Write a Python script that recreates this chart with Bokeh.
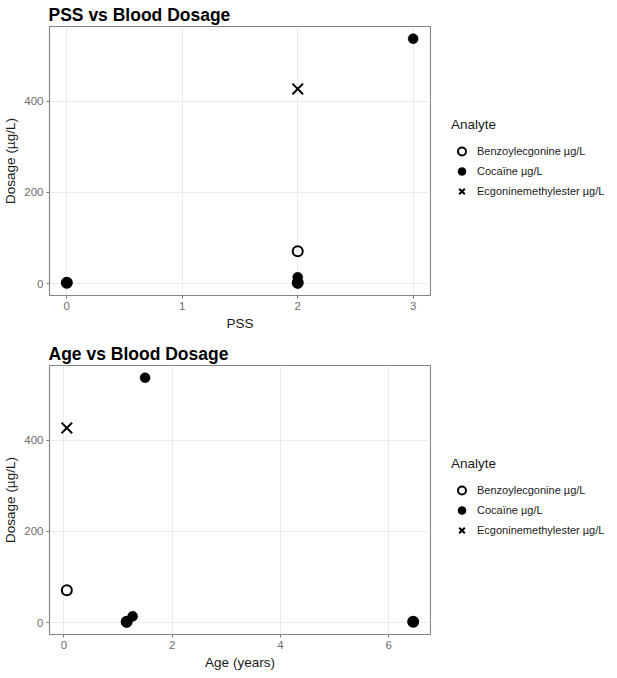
from bokeh.plotting import figure
from bokeh.models import ColumnDataSource, Range1d, FixedTicker, Legend, LegendItem, CDSView, GroupFilter
from bokeh.layouts import column, row
from bokeh.embed import file_html
from bokeh.resources import INLINE

# Blood dosage measurements per sample
analyte_levels = ["Benzoylecgonine µg/L", "Cocaïne µg/L", "Ecgoninemethylester µg/L"]
analyte = ["Benzoylecgonine µg/L", "Ecgoninemethylester µg/L",
           "Benzoylecgonine µg/L", "Cocaïne µg/L", "Cocaïne µg/L",
           "Cocaïne µg/L", "Benzoylecgonine µg/L", "Cocaïne µg/L"]
pss = [2, 2, 2, 2, 2, 3, 0, 0]
age_years = [0.055, 0.055, 1.16, 1.16, 1.27, 1.5, 6.45, 6.45]
dosage = [71, 427, 2, 1, 14, 537, 2, 2]

pss_ticks = [0, 1, 2, 3]
age_ticks = [0, 2, 4, 6]
dosage_ticks = [0, 200, 400]

FONT = "Liberation Sans"

# marker styling per analyte (open circle, filled circle, cross)
marker_style = {
    "Benzoylecgonine µg/L": dict(marker="circle", size=10, fill_color=None,
                                 line_color="black", line_width=2),
    "Cocaïne µg/L": dict(marker="circle", size=10, fill_color="black",
                         line_color="black", line_width=0.5),
    "Ecgoninemethylester µg/L": dict(marker="x", size=15, line_color="black",
                                     line_width=2),
}


def padded(vals, frac=0.05):
    lo, hi = min(vals), max(vals)
    pad = (hi - lo) * frac
    return Range1d(lo - pad, hi + pad)


source = ColumnDataSource(dict(analyte=analyte, pss=pss, age=age_years, dosage=dosage))


def analyte_view(name):
    return CDSView(filter=GroupFilter(column_name="analyte", group=name))


def make_panel(xfield, xvals, xticks, xlabel, title):
    p = figure(width=431, height=339, output_backend="svg", toolbar_location=None,
               x_range=padded(xvals), y_range=padded(dosage),
               min_border_left=43, min_border_right=1,
               min_border_top=25, min_border_bottom=44,
               background_fill_color="white", border_fill_color="white")
    p.title.text = title
    p.title.text_font = FONT
    p.title.text_font_size = "17.5px"
    p.title.text_font_style = "bold"
    p.title.text_color = "black"
    p.title.standoff = 4
    p.title.offset = -1

    p.outline_line_color = "#858585"
    p.outline_line_width = 1.2

    for ax in (p.xaxis[0], p.yaxis[0]):
        ax.axis_line_color = None
        ax.major_tick_line_color = "#7a7a7a"
        ax.major_tick_in = 0
        ax.major_tick_out = 3
        ax.minor_tick_line_color = None
        ax.major_label_text_font = FONT
        ax.major_label_text_font_size = "11.5px"
        ax.major_label_text_color = "#6e6e6e"
        ax.major_label_standoff = 3
        ax.axis_label_text_font = FONT
        ax.axis_label_text_font_size = "13.5px"
        ax.axis_label_text_font_style = "normal"
        ax.axis_label_text_color = "#1a1a1a"
        ax.axis_label_standoff = 3

    p.xaxis.ticker = FixedTicker(ticks=xticks)
    p.yaxis.ticker = FixedTicker(ticks=dosage_ticks)
    p.xaxis.axis_label = xlabel
    p.yaxis.axis_label = "Dosage (µg/L)"

    p.grid.grid_line_color = "#EBEBEB"
    p.grid.grid_line_width = 1

    for name in analyte_levels:
        p.scatter(x=xfield, y="dosage", source=source, view=analyte_view(name),
                  **marker_style[name])
    return p


def make_legend_panel():
    # key panel beside each chart; its ranges keep the data itself out of view
    lg = figure(width=186, height=339, output_backend="svg", toolbar_location=None,
                x_range=Range1d(-2000, -1999), y_range=Range1d(-2000, -1999),
                x_axis_location=None, y_axis_location=None,
                min_border=0, outline_line_color=None,
                background_fill_color="white", border_fill_color="white")
    lg.grid.visible = False
    items = []
    for name in analyte_levels:
        r = lg.scatter(x="dosage", y="dosage", source=source, view=analyte_view(name),
                       **marker_style[name])
        items.append(LegendItem(label=name, renderers=[r]))
    legend = Legend(items=items, title="Analyte",
                    location=(20, 94), margin=0, padding=0,
                    border_line_color=None, background_fill_alpha=0,
                    title_text_font=FONT, title_text_font_size="13.5px",
                    title_text_font_style="normal", title_text_color="#1a1a1a",
                    title_standoff=9,
                    label_text_font=FONT, label_text_font_size="11px",
                    label_text_color="#1a1a1a",
                    glyph_width=21, glyph_height=20, label_height=20,
                    spacing=0, label_standoff=5)
    lg.add_layout(legend)
    return lg


p1 = make_panel("pss", pss, pss_ticks, "PSS", "PSS vs Blood Dosage")
p2 = make_panel("age", age_years, age_ticks, "Age (years)", "Age vs Blood Dosage")

layout = column(row(p1, make_legend_panel(), spacing=0),
                row(p2, make_legend_panel(), spacing=0), spacing=0)
open("out.html", "w").write(file_html(layout, INLINE))
